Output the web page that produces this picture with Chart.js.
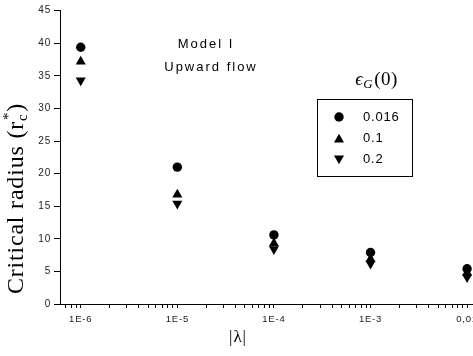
<!DOCTYPE html>
<html>
<head>
<meta charset="utf-8">
<script src="https://cdn.jsdelivr.net/npm/chart.js@4"></script>
<style>
  html, body { margin: 0; padding: 0; background: #fff; overflow: hidden; }
  #wrap { width: 490px; height: 356px; position: relative; }
</style>
</head>
<body>
<div id="wrap"><canvas id="grafico"></canvas></div>
<script>
// |lambda| values (decades) and their tick labels
const lambdaVals = [1e-6, 1e-5, 1e-4, 1e-3, 1e-2];
const xTickLabels = ["1E-6", "1E-5", "1E-4", "1E-3", "0,01"];

// critical radius r_c* for each eps_G(0)
const seriesNames = ["0.016", "0.1", "0.2"];
const rc0016 = [39.4, 21.0, 10.6, 7.9, 5.4];
const rc01 = [37.2, 16.8, 9.3, 6.9, 4.8];
const rc02 = [34.3, 15.4, 8.4, 6.2, 4.1];

const yTicks = [0, 5, 10, 15, 20, 25, 30, 35, 40, 45];

const toPoints = (ys) => lambdaVals.map((x, i) => ({ x: x, y: ys[i] }));

// draws a marker like Chart.js does
function marca(ctx, estilo, x, y, r) {
  ctx.beginPath();
  if (estilo === "circle") {
    ctx.arc(x, y, r, 0, Math.PI * 2);
  } else {
    const s = estilo === "up" ? 1 : -1;
    ctx.moveTo(x, y - s * r);
    ctx.lineTo(x + r * Math.sin(Math.PI * 2 / 3), y + s * r / 2);
    ctx.lineTo(x - r * Math.sin(Math.PI * 2 / 3), y + s * r / 2);
    ctx.closePath();
  }
  ctx.fillStyle = "#000";
  ctx.fill();
}

// texto espaçado
function espaco(ctx, px) {
  if ("letterSpacing" in ctx) ctx.letterSpacing = px + "px";
}

const espacamento = {
  id: "espacamento",
  beforeDraw(chart) { espaco(chart.ctx, 0.8); }
};

// textos e legenda
const extras = {
  id: "extras",
  afterDraw(chart) {
    const ctx = chart.ctx;
    ctx.save();
    ctx.fillStyle = "#000";
    ctx.textBaseline = "middle";

    // y title with sub/superscript
    ctx.save();
    ctx.translate(17, 199);
    ctx.rotate(-Math.PI / 2);
    espaco(ctx, 0.8);
    const big = "24px 'Liberation Serif', serif";
    const small = "15px 'Liberation Serif', serif";
    ctx.font = big;
    const p1 = "Critical radius (r", p4 = ")";
    const w1 = ctx.measureText(p1).width, w4 = ctx.measureText(p4).width;
    ctx.font = small;
    const w2 = ctx.measureText("c").width, w3 = ctx.measureText("*").width;
    let x = -(w1 + Math.max(w2, w3) + w4) / 2;
    ctx.textAlign = "left";
    ctx.font = big; ctx.fillText(p1, x, 0); x += w1;
    ctx.font = small; ctx.fillText("c", x, 6); ctx.fillText("*", x + 1, -8); x += Math.max(w2, w3) + 1;
    ctx.font = big; ctx.fillText(p4, x, 0);
    ctx.restore();

    // annotations
    ctx.textAlign = "center";
    espaco(ctx, 2);
    ctx.font = "13px 'Liberation Sans', Arial, sans-serif";
    ctx.fillText("Model I", 206, 44);
    ctx.fillText("Upward flow", 211, 67);

    // legend title eps_G(0)
    espaco(ctx, 0.5);
    ctx.textAlign = "left";
    ctx.font = "italic 19px 'Liberation Serif', serif";
    const e = "\u03F5";
    const we = ctx.measureText(e).width;
    ctx.font = "italic 13px 'Liberation Serif', serif";
    const wg = ctx.measureText("G").width;
    ctx.font = "19px 'Liberation Serif', serif";
    const wp = ctx.measureText("(0)").width;
    let lx = 376 - (we + wg + wp) / 2;
    ctx.font = "italic 19px 'Liberation Serif', serif"; ctx.fillText(e, lx, 80); lx += we;
    ctx.font = "italic 13px 'Liberation Serif', serif"; ctx.fillText("G", lx, 85); lx += wg + 1;
    ctx.font = "19px 'Liberation Serif', serif"; ctx.fillText("(0)", lx, 80);

    // legend box
    ctx.strokeStyle = "#000";
    ctx.lineWidth = 1;
    ctx.strokeRect(317.5, 99.5, 95, 77);
    const estilos = ["circle", "up", "down"];
    const raios = [4.7, 5.8, 5.8];
    const linhas = [117, 138.5, 159.5];
    ctx.font = "13px 'Liberation Sans', Arial, sans-serif";
    espaco(ctx, 0.8);
    seriesNames.forEach((nome, i) => {
      const yy = linhas[i];
      marca(ctx, estilos[i], 339, yy + (i === 1 ? 1 : i === 2 ? -1 : 0), raios[i]);
      ctx.fillStyle = "#000";
      ctx.fillText(nome, 363, yy);
    });

    // x title
    ctx.textAlign = "center";
    espaco(ctx, 1);
    ctx.font = "17px 'Liberation Serif', serif";
    ctx.fillText("|\u03BB|", 238, 338);
    ctx.restore();
  }
};

const ctx1 = document.getElementById("grafico");
new Chart(ctx1, {
  type: "scatter",
  data: {
    datasets: [
      { label: seriesNames[0], data: toPoints(rc0016), pointStyle: "circle", pointRadius: 4.7,
        backgroundColor: "#000", borderColor: "#000", borderWidth: 0 },
      { label: seriesNames[1], data: toPoints(rc01), pointStyle: "triangle", pointRadius: 5.8,
        backgroundColor: "#000", borderColor: "#000", borderWidth: 0 },
      { label: seriesNames[2], data: toPoints(rc02), pointStyle: "triangle", rotation: 180, pointRadius: 5.8,
        backgroundColor: "#000", borderColor: "#000", borderWidth: 0 }
    ]
  },
  options: {
    responsive: true,
    maintainAspectRatio: false,
    animation: false,
    layout: { padding: { top: 10.7, right: 10, left: 0, bottom: 0 } },
    plugins: { legend: { display: false }, tooltip: { enabled: false } },
    scales: {
      x: {
        type: "logarithmic",
        min: 6.1e-7,
        max: 0.0136,
        afterFit: (s) => { s.height = 52; },
        afterBuildTicks: (s) => {
          const lista = [];
          for (let e = -7; e <= -2; e++) {
            for (let m = 1; m <= 9; m++) {
              const v = Number((m * Math.pow(10, e)).toPrecision(3));
              if (v >= s.min && v <= s.max) lista.push({ value: v, major: m === 1 });
            }
          }
          s.ticks = lista;
        },
        grid: { drawOnChartArea: false, drawTicks: true, tickLength: 4, color: "#000" },
        border: { display: true, color: "#000", width: 1 },
        ticks: {
          autoSkip: false,
          maxRotation: 0,
          padding: 6,
          color: "#222",
          font: { family: "'Liberation Sans', Arial, sans-serif", size: 9.5 },
          callback: (v) => {
            const i = lambdaVals.findIndex((d) => Math.abs(d - v) / d < 1e-6);
            return i >= 0 ? xTickLabels[i] : "";
          }
        }
      },
      y: {
        min: 0,
        max: 45,
        afterFit: (s) => { s.width = 60; },
        afterBuildTicks: (s) => { s.ticks = yTicks.map((v) => ({ value: v })); },
        grid: { drawOnChartArea: false, drawTicks: true, tickLength: 6, color: "#000" },
        border: { display: true, color: "#000", width: 1 },
        ticks: {
          padding: 3,
          color: "#222",
          font: { family: "'Liberation Sans', Arial, sans-serif", size: 10 }
        }
      }
    }
  },
  plugins: [espacamento, extras]
});
</script>
</body>
</html>
